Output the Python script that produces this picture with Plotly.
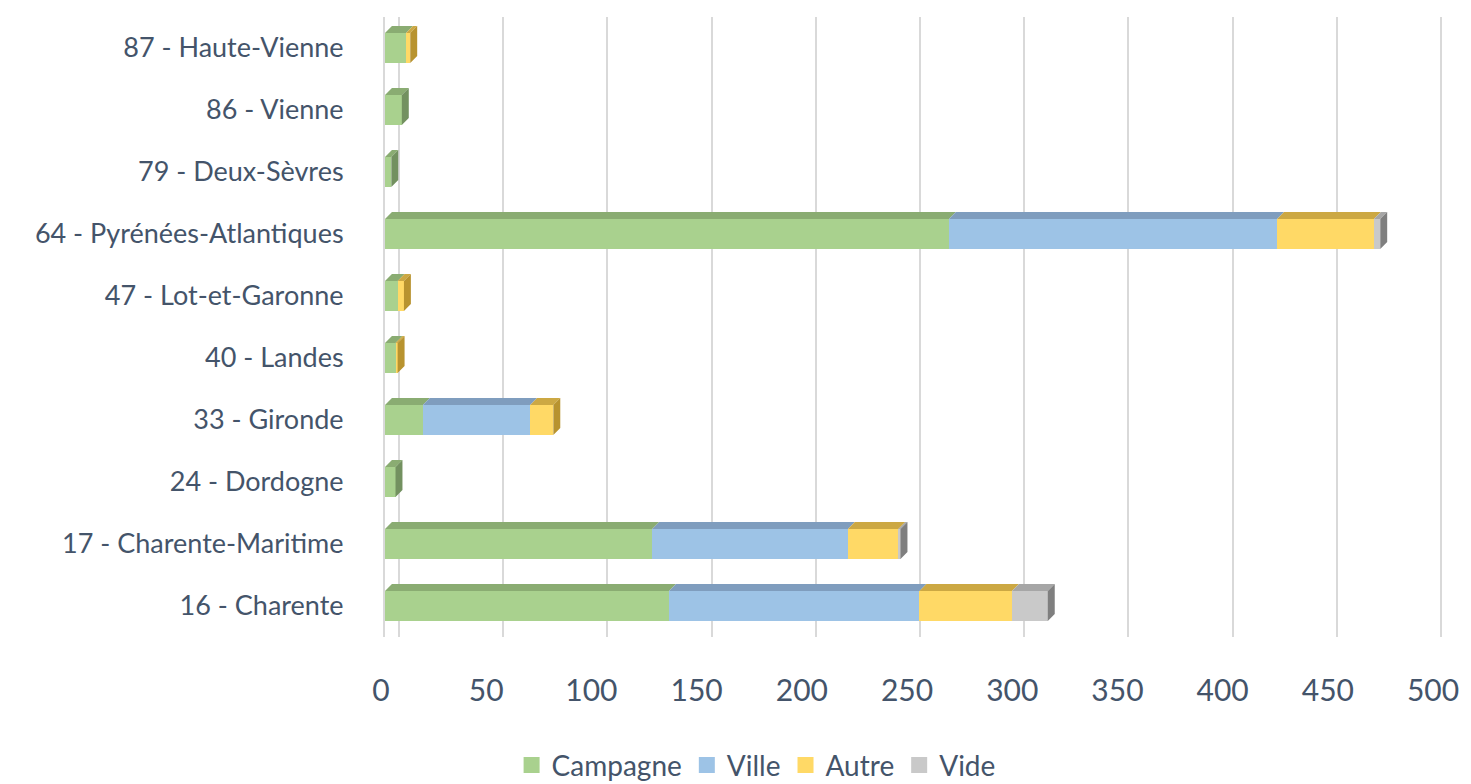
import plotly.graph_objects as go

categories = ["16 - Charente", "17 - Charente-Maritime", "24 - Dordogne", "33 - Gironde",
              "40 - Landes", "47 - Lot-et-Garonne", "64 - Pyrénées-Atlantiques",
              "79 - Deux-Sèvres", "86 - Vienne", "87 - Haute-Vienne"]
campagne = [135, 127, 5, 18, 5, 6, 268, 3, 8, 10]
ville = [119, 93, 0, 51, 0, 0, 156, 0, 0, 0]
autre = [44, 24, 0, 11, 1, 3, 46, 0, 0, 2]
vide = [17, 1, 0, 0, 0, 0, 3, 0, 0, 0]
x_ticks = [0, 50, 100, 150, 200, 250, 300, 350, 400, 450, 500]

series_names = ["Campagne", "Ville", "Autre", "Vide"]
series_values = [campagne, ville, autre, vide]
front_colors = ["#A9D18E", "#9DC3E6", "#FFD966", "#C9C9C9"]
top_colors = ["#8AAC72", "#7F9DBE", "#CCA843", "#A6A6A6"]
side_colors = ["#739160", "#6C87A6", "#B8932F", "#7F7F7F"]

TEXT = "#44546A"
FONT = "Lato"
BAR_W = 0.484   # bar thickness in category units
DY = 0.113      # depth of 3D top face (category units)
DX = 3.3        # depth of 3D face (value units)

pos = list(range(len(categories)))

fig = go.Figure()

# front faces
for name, vals, col in zip(series_names, series_values, front_colors):
    fig.add_trace(go.Bar(y=pos, x=vals, orientation="h", name=name, width=BAR_W,
                         marker=dict(color=col, line=dict(width=0)),
                         showlegend=False, hoverinfo="x+name"))

# top faces
starts = [0] * len(categories)
for s, (vals, col) in enumerate(zip(series_values, top_colors)):
    xs, ys = [], []
    for i, v in enumerate(vals):
        if v > 0:
            x0 = starts[i]
            x1 = x0 + v
            yt = pos[i] + BAR_W / 2
            xs += [x0, x1, x1 + DX, x0 + DX, x0, None]
            ys += [yt, yt, yt + DY, yt + DY, yt, None]
        starts[i] += v
    fig.add_trace(go.Scatter(x=xs, y=ys, mode="lines", fill="toself", fillcolor=col,
                             line=dict(width=0, color=col), hoverinfo="skip",
                             showlegend=False))

# side faces (of last non-empty segment)
totals = [sum(v[i] for v in series_values) for i in range(len(categories))]
for s, col in enumerate(side_colors):
    xs, ys = [], []
    for i in range(len(categories)):
        last = max(k for k in range(len(series_values)) if series_values[k][i] > 0)
        if last == s:
            e = totals[i]
            yb = pos[i] - BAR_W / 2
            yt = pos[i] + BAR_W / 2
            xs += [e, e + DX, e + DX, e, e, None]
            ys += [yb, yb + DY, yt + DY, yt, yb, None]
    if xs:
        fig.add_trace(go.Scatter(x=xs, y=ys, mode="lines", fill="toself", fillcolor=col,
                                 line=dict(width=0, color=col), hoverinfo="skip",
                                 showlegend=False))

# legend entries
for name, col in zip(series_names, front_colors):
    fig.add_trace(go.Scatter(x=[None], y=[None], mode="markers", name=name,
                             marker=dict(symbol="square", size=20, color=col)))

# invisible trace on back-wall grid axis
fig.add_trace(go.Scatter(x=[0], y=[0], xaxis="x2", mode="markers",
                         marker=dict(opacity=0), hoverinfo="skip", showlegend=False))

fig.update_layout(
    width=1471, height=784,
    margin=dict(l=385, r=24, t=17, b=147),
    barmode="stack",
    plot_bgcolor="white", paper_bgcolor="white",
    font=dict(family=FONT, color=TEXT),
    xaxis=dict(range=[0, 503.3], tickvals=x_ticks, showgrid=False, zeroline=False,
               ticks="", tickfont=dict(size=30, color=TEXT, family=FONT),
               ticklabelstandoff=33, ticklabelshift=-4),
    xaxis2=dict(overlaying="x", range=[-6.7, 501.4], tickvals=x_ticks,
                showticklabels=False, showgrid=True, gridcolor="#D9D9D9", gridwidth=2,
                zeroline=False, ticks=""),
    yaxis=dict(range=[-0.5, 9.5], tickvals=pos, ticktext=categories, showgrid=False,
               zeroline=False, ticks="", showline=True, linecolor="#D9D9D9", linewidth=2,
               layer="below traces",
               tickfont=dict(size=27, color=TEXT, family=FONT), ticklabelstandoff=34),
    legend=dict(orientation="h", traceorder="normal", xref="container", yref="container",
                x=0.514, y=0.024, xanchor="center", yanchor="middle",
                font=dict(size=28, color=TEXT, family=FONT)),
)

fig.write_html("out.html", config={"displayModeBar": False},
               post_script="document.body.style.margin='0';")
